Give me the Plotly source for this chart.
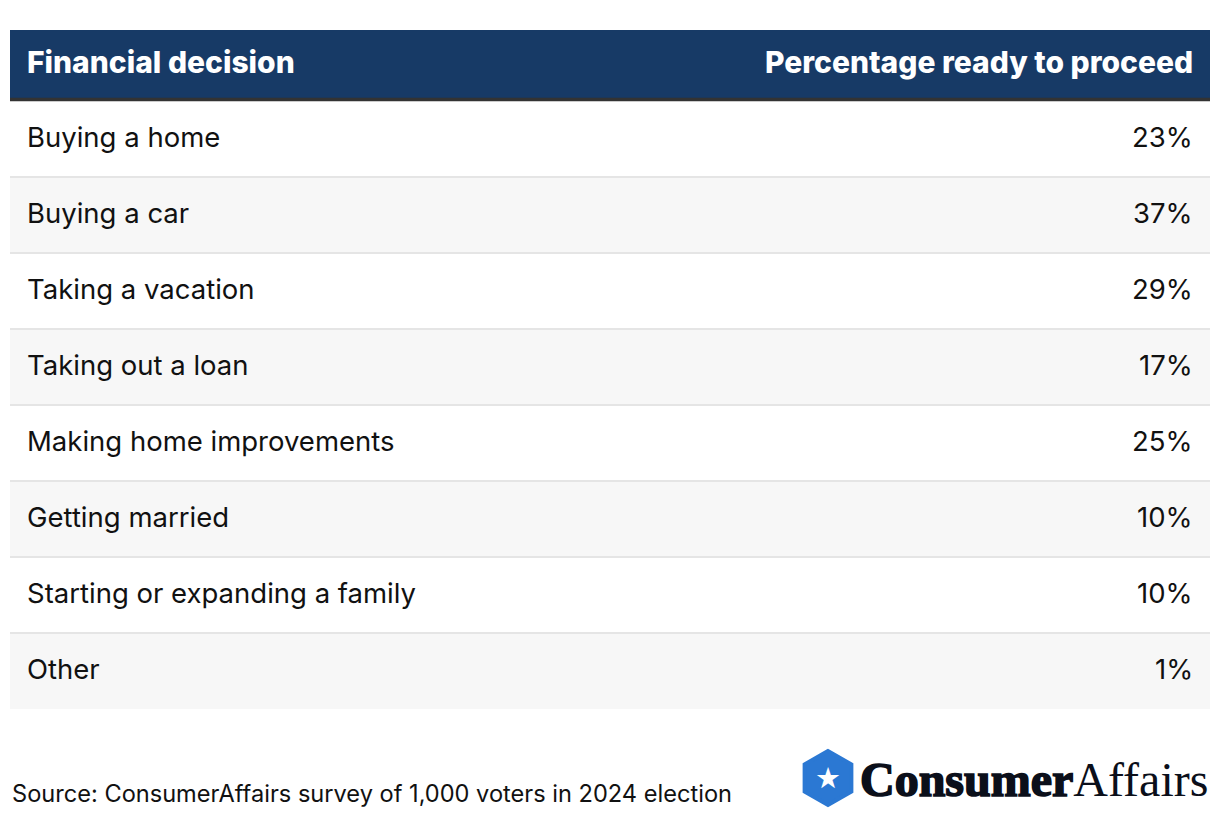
import math
import plotly.graph_objects as go

# ---- data ----
decisions = [
    "Buying a home",
    "Buying a car",
    "Taking a vacation",
    "Taking out a loan",
    "Making home improvements",
    "Getting married",
    "Starting or expanding a family",
    "Other",
]
percent_ready = [23, 37, 29, 17, 25, 10, 10, 1]
header_labels = ["Financial decision", "Percentage ready to proceed"]
source_text = "Source: ConsumerAffairs survey of 1,000 voters in 2024 election"

# ---- style ----
NAVY = "#173a66"
ROW_FILLS = ["#ffffff", "#f7f7f7"]
SEP = "#e5e5e5"
TEXT = "#111111"
HEADER_H = 0.934  # header height in row units
n = len(decisions)

fig = go.Figure()

# header background
fig.add_trace(go.Bar(
    y=[-HEADER_H / 2], x=[1], base=0, width=[HEADER_H], orientation="h",
    marker=dict(color=NAVY, line=dict(width=0)), hoverinfo="skip", showlegend=False,
))
# row backgrounds
fig.add_trace(go.Bar(
    y=[i + 0.5 for i in range(n)], x=[1] * n, base=0, width=[1] * n, orientation="h",
    marker=dict(color=[ROW_FILLS[i % 2] for i in range(n)], line=dict(width=0)),
    hoverinfo="skip", showlegend=False,
))

shapes = []
# row separators
for i in range(1, n):
    shapes.append(dict(type="line", xref="x", yref="y", x0=0, x1=1, y0=i, y1=i,
                       line=dict(color=SEP, width=2), layer="above"))
# header bottom border
shapes.append(dict(type="line", xref="x", yref="y", x0=0, x1=1, y0=-0.02, y1=-0.02,
                   line=dict(color="#333333", width=3.5), layer="above"))

# logo hexagon (pixel-sized, anchored under the table)
R = 27
HEX_DY = -69
pts = [(R * math.cos(math.radians(90 + 60 * k)), R * math.sin(math.radians(90 + 60 * k)) + HEX_DY)
       for k in range(6)]
path = "M " + " L ".join(f"{x:.2f},{y:.2f}" for x, y in pts) + " Z"
HEX_X = (828 - 10) / 1200
shapes.append(dict(type="path", xref="paper", yref="paper", xsizemode="pixel", ysizemode="pixel",
                   xanchor=HEX_X, yanchor=0, path=path,
                   fillcolor="#2b78d3", line=dict(color="#2b78d3", width=4)))

annotations = []
HFONT = dict(family="Inter", size=30, color="white", weight=800)
BFONT = dict(family="Inter", size=27.5, color=TEXT)
HY = -HEADER_H / 2 - 0.045
# header labels
annotations.append(dict(x=0, y=HY, xref="x", yref="y", text=header_labels[0],
                        xanchor="left", yanchor="middle", xshift=15, showarrow=False, font=HFONT))
annotations.append(dict(x=1, y=HY, xref="x", yref="y", text=header_labels[1],
                        xanchor="right", yanchor="middle", xshift=-15, showarrow=False, font=HFONT))
# cells
for i, (d, p) in enumerate(zip(decisions, percent_ready)):
    annotations.append(dict(x=0, y=i + 0.47, xref="x", yref="y", text=d,
                            xanchor="left", yanchor="middle", xshift=15, showarrow=False, font=BFONT))
    annotations.append(dict(x=1, y=i + 0.47, xref="x", yref="y", text=f"{p}%",
                            xanchor="right", yanchor="middle", xshift=-15, showarrow=False, font=BFONT))
# source
annotations.append(dict(x=0, y=0, xref="paper", yref="paper", text=source_text,
                        xanchor="left", yanchor="middle", yshift=-84, showarrow=False,
                        font=dict(family="Inter", size=23.6, color=TEXT)))
# logo star
annotations.append(dict(x=HEX_X, y=0, xref="paper", yref="paper", text="★",
                        xanchor="center", yanchor="middle", yshift=-69, showarrow=False,
                        font=dict(family="DejaVu Sans", size=29, color="white")))
# logo text
annotations.append(dict(x=1, y=0, xref="paper", yref="paper",
                        text='<span style="stroke:#0b0f1a;stroke-width:1.6px"><b>Consumer</b></span>Affairs',
                        xanchor="right", yanchor="middle", yshift=-70, showarrow=False,
                        font=dict(family="Liberation Serif", size=48, color="#0b0f1a")))

# page body has an 8px default margin: size the figure so the table lands at 10..1210 px
fig.update_layout(
    width=1212, height=810,
    margin=dict(l=2, r=10, t=22, b=109),
    paper_bgcolor="white", plot_bgcolor="white",
    xaxis=dict(range=[0, 1], visible=False, fixedrange=True),
    yaxis=dict(range=[n, -HEADER_H], visible=False, fixedrange=True),
    shapes=shapes, annotations=annotations, bargap=0, showlegend=False,
)

fig.write_html("out.html")
